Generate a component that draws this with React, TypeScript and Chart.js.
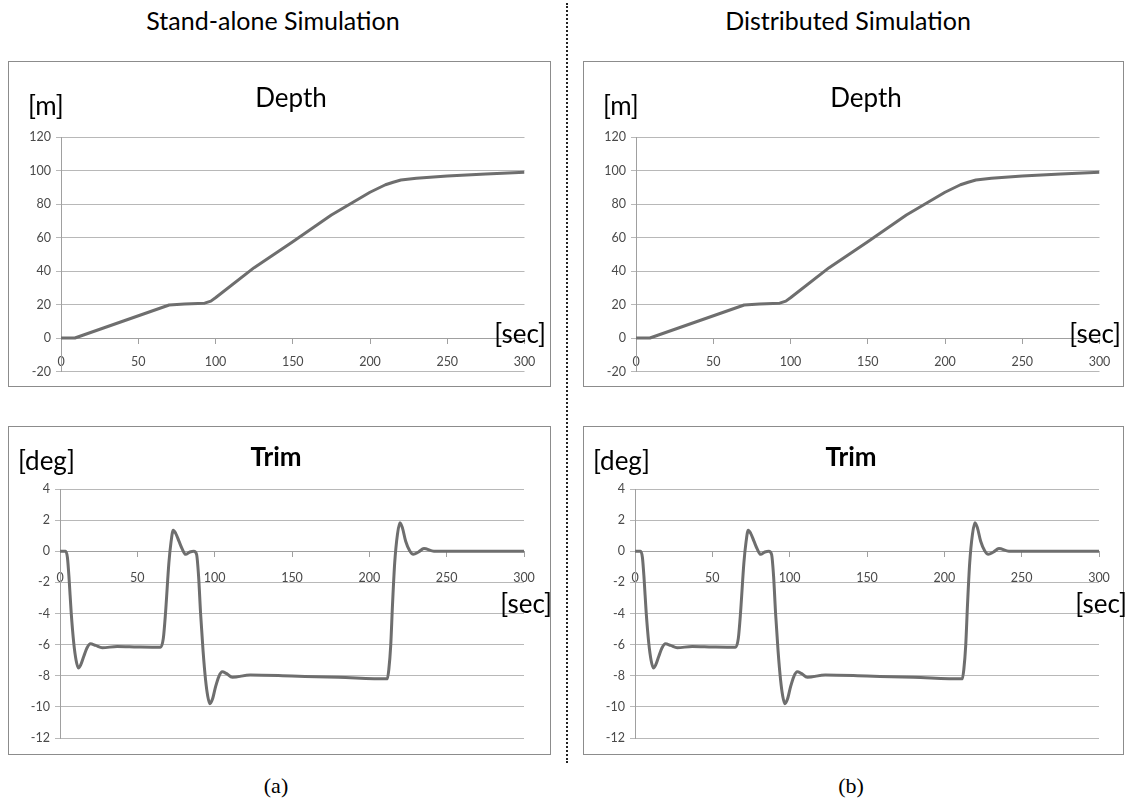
import React, { useEffect, useRef } from "react";
import { Chart, registerables } from "chart.js";

Chart.register(...registerables);

// ---------- data ----------
const depthTime = [0, 9, 70, 80, 93, 97, 100, 125, 150, 175, 200, 210, 215, 220, 230, 250, 275, 300];
const depthValues = [0, 0, 19.7, 20.3, 20.8, 22, 24, 42, 57.5, 73.4, 87, 91.5, 93, 94.3, 95.4, 96.7, 97.9, 98.9];

const trimTime = [
  0, 3.6, 4.8, 5.9, 7.2, 8.9, 10.4, 11.9, 13.4, 15.4, 17.5, 19.7, 23, 27.3, 37, 50, 65,
  66.8, 68.2, 70.4, 71.8, 73.2, 74.8, 76.9, 79, 81.2, 84, 86.5, 88.3, 89.6, 90.9, 92.5,
  94.1, 95.5, 96.9, 98.6, 100.6, 102.7, 104.9, 107.5, 111.4, 123, 150, 180, 211.6,
  212.6, 213.8, 215, 216.4, 218.2, 219.8, 221.4, 223.5, 226, 228.4, 231.8, 235.3, 241.8, 270, 300,
];
const trimValues = [
  0, 0, -0.4, -1.8, -3.9, -5.9, -7.0, -7.5, -7.3, -6.75, -6.2, -5.95, -6.05, -6.2, -6.12, -6.15, -6.17,
  -5.6, -4, -0.75, 0.6, 1.35, 1.15, 0.65, 0.15, -0.2, -0.05, 0, -0.2, -1.6, -4, -6.4,
  -8.25, -9.3, -9.8, -9.5, -8.7, -8.05, -7.75, -7.85, -8.1, -7.95, -8.02, -8.1, -8.2,
  -7.6, -6.1, -3.4, -0.75, 1.1, 1.83, 1.5, 0.64, 0.05, -0.2, -0.05, 0.17, 0, 0, 0,
];

const xTicksMin = 0;
const xTicksMax = 300;
const xTickStep = 50;
const depthAxis = [-20, 120, 20];
const trimAxis = [-12, 4, 2];

const LINE = "#6e6e6e";
const GRID = "#b8b8b8";
const AXIS = "#a0a0a0";
const TICK_TEXT = "#4a4a4a";
const SANS = "Lato, 'Open Sans', sans-serif";

Chart.defaults.font.family = SANS;

type PanelProps = {
  left: number;
  top: number;
  width: number;
  height: number;
  boxWidth: number;
  time: number[];
  values: number[];
  axis: number[];
  smooth: boolean;
  yWidth: number;
  padTop: number;
  padRight: number;
  padBottom: number;
  labelPad: number;
};

function Panel(p: PanelProps) {
  const ref = useRef<HTMLCanvasElement | null>(null);
  useEffect(() => {
    if (!ref.current) return;
    const chart = new Chart(ref.current, {
      type: "line",
      data: {
        datasets: [
          {
            data: p.time.map((t, i) => ({ x: t, y: p.values[i] })),
            borderColor: LINE,
            borderWidth: 3,
            pointRadius: 0,
            fill: false,
            tension: 0,
            cubicInterpolationMode: p.smooth ? "monotone" : "default",
            borderJoinStyle: "round",
          },
        ],
      },
      options: {
        animation: false,
        responsive: false,
        devicePixelRatio: 1,
        layout: { padding: { left: 0, top: p.padTop, right: p.padRight, bottom: p.padBottom } },
        plugins: { legend: { display: false }, tooltip: { enabled: false }, title: { display: false } },
        scales: {
          x: {
            type: "linear",
            position: { y: 0 } as any,
            min: xTicksMin,
            max: xTicksMax,
            ticks: {
              stepSize: xTickStep,
              color: TICK_TEXT,
              font: { size: 12.5, family: SANS },
              padding: p.labelPad,
              maxRotation: 0,
              autoSkip: false,
            },
            grid: { display: true, drawOnChartArea: false, drawTicks: true, tickLength: 5, color: AXIS },
            border: { display: true, color: AXIS, width: 1 },
          },
          y: {
            type: "linear",
            min: p.axis[0],
            max: p.axis[1],
            ticks: {
              stepSize: p.axis[2],
              color: TICK_TEXT,
              font: { size: 12.5, family: SANS },
              padding: 5,
            },
            grid: { color: GRID, tickLength: 5, lineWidth: 1 },
            border: { display: true, color: AXIS, width: 1 },
            afterFit: (s: any) => {
              s.width = p.yWidth;
            },
          },
        },
      },
    });
    return () => chart.destroy();
  }, []);
  return (
    <>
      <div
        style={{
          position: "absolute",
          left: p.left,
          top: p.top,
          width: p.boxWidth,
          height: p.height,
          border: "1.5px solid #8c8c8c",
          boxSizing: "border-box",
        }}
      />
      <canvas
        ref={ref}
        width={p.width}
        height={p.height}
        style={{ position: "absolute", left: p.left, top: p.top, width: p.width, height: p.height }}
      />
    </>
  );
}

type TextProps = {
  text: string;
  x: number;
  y: number;
  size: number;
  align: "left" | "center" | "right";
  bold?: boolean;
  family?: string;
};

function Label(t: TextProps) {
  const lh = Math.round(t.size * 1.3);
  const style: React.CSSProperties = {
    position: "absolute",
    top: t.y - lh / 2,
    lineHeight: lh + "px",
    fontSize: t.size,
    fontFamily: t.family || SANS,
    fontWeight: t.bold ? 700 : 400,
    color: "#000",
    whiteSpace: "nowrap",
  };
  if (t.align === "left") style.left = t.x;
  if (t.align === "center") {
    style.left = t.x;
    style.transform = "translateX(-50%)";
  }
  if (t.align === "right") style.right = 1126 - t.x;
  return <div style={style}>{t.text}</div>;
}

function Column({ dx, title, caption, boxWidth }: { dx: number; title: string; caption: string; boxWidth: number }) {
  return (
    <>
      <Label text={title} x={273 + dx} y={20} size={25} align="center" />
      <Panel
        left={8 + dx}
        top={61}
        width={543}
        height={326}
        boxWidth={boxWidth}
        time={depthTime}
        values={depthValues}
        axis={depthAxis}
        smooth={false}
        yWidth={53}
        padTop={76}
        padRight={26.5}
        padBottom={15.5}
        labelPad={11}
      />
      <Label text="[m]" x={28 + dx} y={105} size={26} align="left" />
      <Label text="Depth" x={291 + dx} y={97} size={26} align="center" />
      <Label text="[sec]" x={546 + dx} y={333} size={26} align="right" />
      <Panel
        left={8 + dx}
        top={426}
        width={543}
        height={329}
        boxWidth={boxWidth}
        time={trimTime}
        values={trimValues}
        axis={trimAxis}
        smooth={true}
        yWidth={52}
        padTop={63}
        padRight={27}
        padBottom={17}
        labelPad={14}
      />
      <Label text="[deg]" x={18 + dx} y={460} size={26} align="left" />
      <Label text="Trim" x={276 + dx} y={456} size={26} align="center" bold />
      <Label text="[sec]" x={552 + dx} y={603} size={26} align="right" />
      <Label text={caption} x={276 + dx} y={785} size={22} align="center" family="'Liberation Serif', 'Times New Roman', serif" />
    </>
  );
}

export default function App() {
  return (
    <div
      style={{
        position: "absolute",
        left: 0,
        top: 0,
        width: 1126,
        height: 807,
        background: "#fff",
        overflow: "hidden",
      }}
    >
      <Column dx={0} title="Stand-alone Simulation" caption="(a)" boxWidth={543} />
      <div
        style={{
          position: "absolute",
          left: 566,
          top: 3,
          height: 760,
          width: 0,
          borderLeft: "2px dotted #222",
        }}
      />
      <Column dx={575} title="Distributed Simulation" caption="(b)" boxWidth={541} />
    </div>
  );
}
